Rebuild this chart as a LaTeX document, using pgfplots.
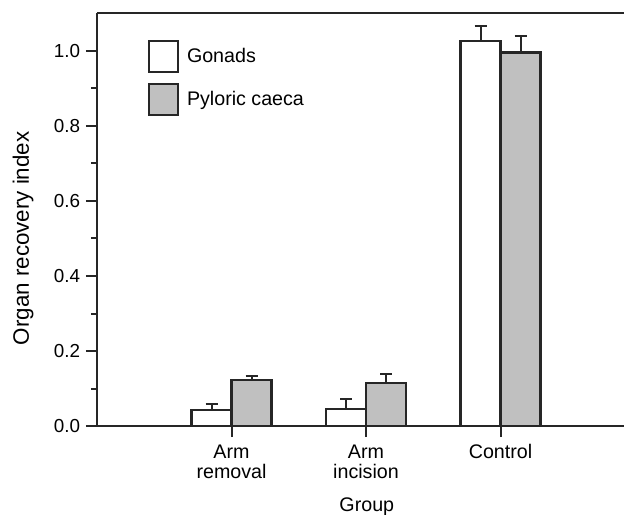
\documentclass[border=0pt]{standalone}
\usepackage{pgfplots}
\pgfplotsset{compat=1.18}
\usepackage{fontspec}
\setmainfont{Liberation Sans}
\definecolor{barline}{HTML}{262626}
\definecolor{pyl}{HTML}{C0C0C0}
\begin{document}
\begin{tikzpicture}
\begin{axis}[
  scale only axis,
  width=316.2pt, height=247.8pt,
  xmin=-1, xmax=2.918,
  ymin=0, ymax=1.1013,
  axis x line*=box,
  axis y line*=left,
  axis line style={line width=1.2pt, barline},
  every tick/.style={line width=1.2pt, barline},
  tick align=outside,
  xtick pos=bottom, ytick pos=left,
  major tick length=6.6pt, minor tick length=3.6pt,
  xtick={0,1,2},
  xticklabels={{Arm\\removal},{Arm\\incision},{Control}},
  xticklabel style={align=center, font=\fontsize{11.8}{12}\selectfont, yshift=-1pt},
  ytick={0,0.2,0.4,0.6,0.8,1.0},
  minor y tick num=1,
  yticklabel style={/pgf/number format/.cd, fixed, fixed zerofill, precision=1, assume math mode=true},
  font=\fontsize{11.3}{13}\selectfont,
  ylabel={Organ recovery index},
  xlabel={Group},
  every axis y label/.style={at={(axis description cs:-0.140,0.4545)}, rotate=90, anchor=center, font=\fontsize{13.4}{15}\selectfont},
  every axis x label/.style={at={(axis description cs:0.512,-0.196)}, anchor=center, font=\fontsize{11.8}{13}\selectfont},
  ybar=0pt, bar width=24pt,
  legend style={at={(axis description cs:0.0968,0.9346)}, anchor=north west, draw=none, fill=none,
    inner sep=0pt, row sep=6pt, font=\fontsize{11.8}{13}\selectfont,
    nodes={inner sep=0pt, anchor=west}},
  legend cell align=left,
  /tikz/every odd column/.append style={column sep=4.6pt},
  legend image code/.code={\draw[draw=barline, line width=1.2pt, #1] (0pt,-9.3pt) rectangle (17.4pt,9.3pt);},
  error bars/y dir=plus, error bars/y explicit,
  error bars/error bar style={line width=1.2pt, barline},
  error bars/error mark options={line width=1.2pt, barline, mark size=3.6pt, rotate=90},
]
\addplot[fill=white, draw=barline, line width=1.3pt] coordinates {
  (0,0.043) +- (0,0.016)
  (1,0.045) +- (0,0.027)
  (2,1.027) +- (0,0.040)
};
\addlegendentry{Gonads}
\addplot[fill=pyl, draw=barline, line width=1.3pt] coordinates {
  (0,0.123) +- (0,0.010)
  (1,0.115) +- (0,0.025)
  (2,0.996) +- (0,0.045)
};
\addlegendentry{Pyloric caeca}
\end{axis}
\pgfresetboundingbox
\path (-58.2pt,-52.8pt) rectangle (316.2pt,255.6pt);
\end{tikzpicture}
\end{document}
